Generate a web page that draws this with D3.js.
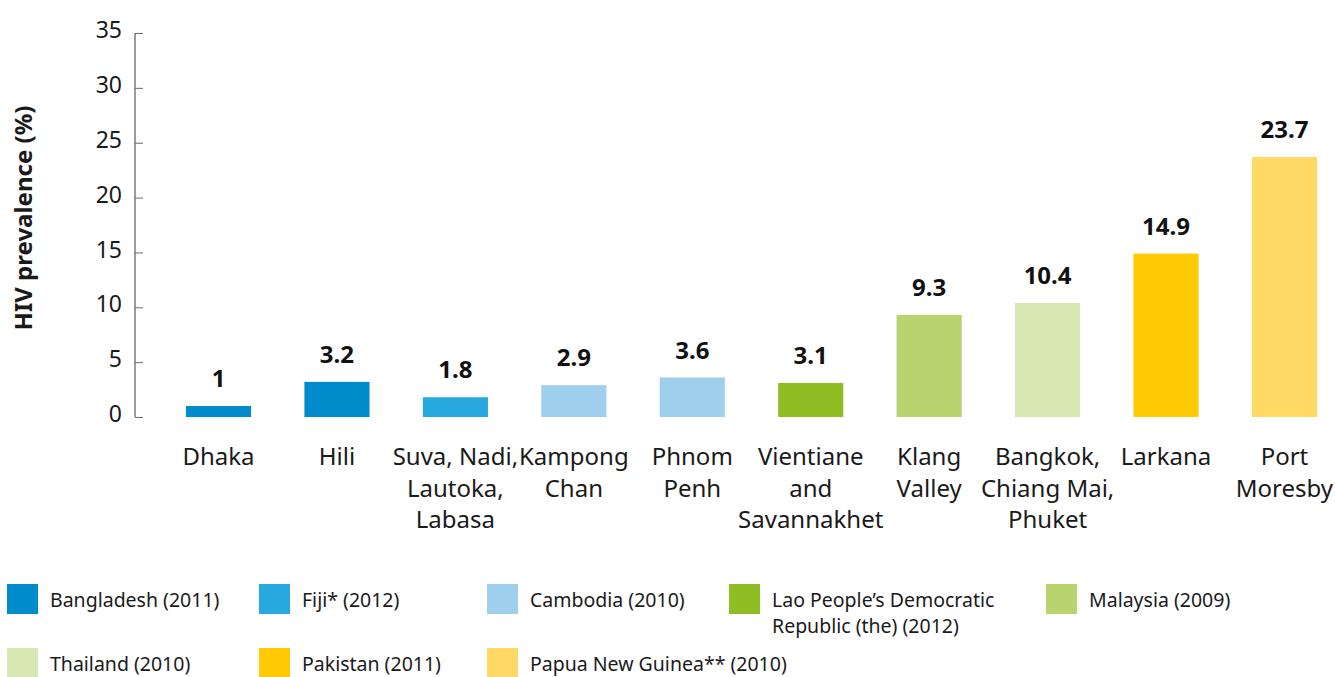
<!DOCTYPE html>
<html>
<head>
<meta charset="utf-8">
<script src="https://cdn.jsdelivr.net/npm/d3@7/dist/d3.min.js"></script>
<style>
  html, body { margin: 0; padding: 0; background: #fff; }
  svg { display: block; font-family: "Noto Sans", sans-serif; }
</style>
</head>
<body>
<svg id="chart" width="1335" height="677"></svg>
<script>
// City-level HIV prevalence, one bar per city
const cities = [
  "Dhaka", "Hili", "Suva, Nadi,\nLautoka,\nLabasa", "Kampong\nChan", "Phnom\nPenh",
  "Vientiane\nand\nSavannakhet", "Klang\nValley", "Bangkok,\nChiang Mai,\nPhuket", "Larkana", "Port\nMoresby"
];
const prevalence = [1, 3.2, 1.8, 2.9, 3.6, 3.1, 9.3, 10.4, 14.9, 23.7];
// Country (legend entry) each city belongs to
const cityCountry = [0, 0, 1, 2, 2, 3, 4, 5, 6, 7];

const countries = [
  "Bangladesh (2011)", "Fiji* (2012)", "Cambodia (2010)",
  "Lao People\u2019s Democratic\nRepublic (the) (2012)", "Malaysia (2009)",
  "Thailand (2010)", "Pakistan (2011)", "Papua New Guinea** (2010)"
];
const countryColors = [
  "#008cca", "#27a9e0", "#9ecfed", "#8fbe24",
  "#b9d36f", "#d9e7b3", "#ffc903", "#ffd964"
];

const yTicks = [0, 5, 10, 15, 20, 25, 30, 35];
const yTitle = "HIV prevalence (%)";

// Legend layout: rows and column positions
const legendRowY = [584, 648];
const legendColX = [7, 259, 487, 729, 1046];
const legendSlots = [[0,0],[0,1],[0,2],[0,3],[0,4],[1,0],[1,1],[1,2]];

const svg = d3.select("#chart");

const x = d3.scaleBand()
  .domain(d3.range(cities.length))
  .range([159.3, 1343.7])
  .paddingInner(0.45)
  .paddingOuter(0.225);

const y = d3.scaleLinear().domain([0, 35]).range([417, 33]);

// Y axis
const yAxis = svg.append("g")
  .attr("transform", "translate(135,0)")
  .call(d3.axisRight(y).tickValues(yTicks).tickSize(8).tickFormat(d3.format("d")));
yAxis.select(".domain").attr("stroke", "#3a3a3a").attr("stroke-width", 1).attr("d", `M0,${y(35)}V${y(0)}`);
yAxis.selectAll(".tick line").attr("stroke", "#6b6b6b");
yAxis.selectAll(".tick text")
  .attr("x", -13)
  .attr("dy", "0.2em")
  .attr("text-anchor", "end")
  .attr("font-size", 23)
  .attr("font-family", "'Noto Sans', sans-serif")
  .attr("fill", "#1a1a1a");

svg.append("text")
  .attr("transform", `translate(32,218) rotate(-90)`)
  .attr("text-anchor", "middle")
  .attr("font-size", 24)
  .attr("font-weight", 700)
  .attr("fill", "#1a1a1a")
  .text(yTitle);

// Bars
svg.append("g").selectAll("rect")
  .data(prevalence)
  .join("rect")
  .attr("x", (d, i) => x(i))
  .attr("width", x.bandwidth())
  .attr("y", d => y(d))
  .attr("height", d => y(0) - y(d))
  .attr("fill", (d, i) => countryColors[cityCountry[i]]);

// Value labels
svg.append("g").selectAll("text")
  .data(prevalence)
  .join("text")
  .attr("x", (d, i) => x(i) + x.bandwidth() / 2)
  .attr("y", d => y(d) - 19)
  .attr("text-anchor", "middle")
  .attr("font-size", 24)
  .attr("font-weight", 700)
  .attr("fill", "#111")
  .text(d => d);

// City labels
const cityLabels = svg.append("g").selectAll("text")
  .data(cities)
  .join("text")
  .attr("x", (d, i) => x(i) + x.bandwidth() / 2)
  .attr("y", 465)
  .attr("text-anchor", "middle")
  .attr("font-size", 24)
  .attr("fill", "#1a1a1a");
cityLabels.each(function(d, i) {
  const t = d3.select(this);
  const cx = x(i) + x.bandwidth() / 2;
  d.split("\n").forEach((line, k) => {
    t.append("tspan").attr("x", cx).attr("dy", k === 0 ? 0 : 31.5).text(line);
  });
});

// Legend
const legend = svg.append("g").selectAll("g")
  .data(countries)
  .join("g")
  .attr("transform", (d, i) => `translate(${legendColX[legendSlots[i][1]]},${legendRowY[legendSlots[i][0]]})`);
legend.append("rect")
  .attr("width", 31).attr("height", 30)
  .attr("fill", (d, i) => countryColors[i]);
legend.append("text")
  .attr("x", 43)
  .attr("y", 23)
  .attr("font-size", 19.5)
  .attr("fill", "#1a1a1a")
  .each(function(d) {
    const t = d3.select(this);
    d.split("\n").forEach((line, k) => {
      t.append("tspan").attr("x", 43).attr("dy", k === 0 ? 0 : 26).text(line);
    });
  });
</script>
</body>
</html>
